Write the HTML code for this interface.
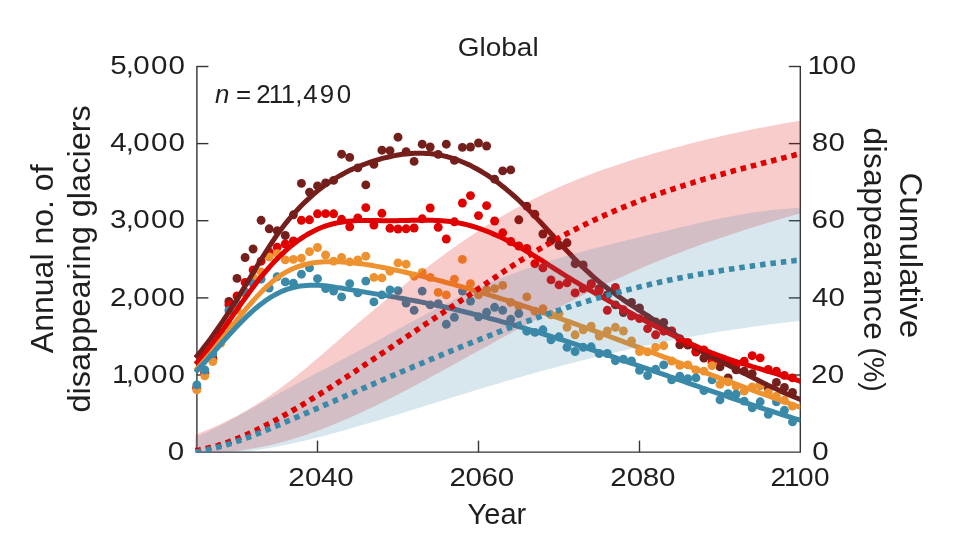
<!DOCTYPE html>
<html lang="en">
<head>
<meta charset="utf-8">
<title>Global – annual number of disappearing glaciers</title>
<style>
html,body{margin:0;padding:0;background:#fff;}
body{width:962px;height:546px;overflow:hidden;}
svg{display:block;}
</style>
</head>
<body>
<svg width="962" height="546" viewBox="0 0 962 546" font-family="'Liberation Sans', sans-serif" fill="#1f1f1f">
<rect width="962" height="546" fill="#ffffff"/>
<defs><clipPath id="plot"><rect x="190" y="60" width="610.3" height="392.70000000000005"/></clipPath></defs>
<g stroke="#353535" stroke-width="1.4" fill="none">
<path d="M196.9 65.9 V452.1 H800.3 V65.9"/>
<path d="M196.9 375.0 h11.5"/>
<path d="M800.3 375.0 h-11.5"/>
<path d="M196.9 297.9 h11.5"/>
<path d="M800.3 297.9 h-11.5"/>
<path d="M196.9 220.7 h11.5"/>
<path d="M800.3 220.7 h-11.5"/>
<path d="M196.9 143.6 h11.5"/>
<path d="M800.3 143.6 h-11.5"/>
<path d="M196.9 66.5 h11.5"/>
<path d="M800.3 66.5 h-11.5"/>
<path d="M317.5 452.1 v-11.5"/>
<path d="M478.5 452.1 v-11.5"/>
<path d="M639.5 452.1 v-11.5"/>
</g>
<g clip-path="url(#plot)">
<g fill="#741f1c" stroke="none">
<circle cx="196.8" cy="388.0" r="4.45"/>
<circle cx="204.8" cy="373.0" r="4.45"/>
<circle cx="212.8" cy="358.0" r="4.45"/>
<circle cx="220.9" cy="333.0" r="4.45"/>
<circle cx="228.9" cy="301.4" r="4.45"/>
<circle cx="237.0" cy="278.4" r="4.45"/>
<circle cx="245.1" cy="257.5" r="4.45"/>
<circle cx="253.1" cy="249.0" r="4.45"/>
<circle cx="261.1" cy="220.3" r="4.45"/>
<circle cx="269.2" cy="228.8" r="4.45"/>
<circle cx="277.2" cy="230.8" r="4.45"/>
<circle cx="285.3" cy="235.5" r="4.45"/>
<circle cx="293.4" cy="214.8" r="4.45"/>
<circle cx="301.4" cy="183.4" r="4.45"/>
<circle cx="309.5" cy="192.1" r="4.45"/>
<circle cx="317.5" cy="185.9" r="4.45"/>
<circle cx="325.6" cy="182.9" r="4.45"/>
<circle cx="333.6" cy="180.4" r="4.45"/>
<circle cx="341.6" cy="154.2" r="4.45"/>
<circle cx="349.7" cy="157.4" r="4.45"/>
<circle cx="357.8" cy="167.9" r="4.45"/>
<circle cx="365.8" cy="184.9" r="4.45"/>
<circle cx="373.9" cy="164.4" r="4.45"/>
<circle cx="381.9" cy="150.2" r="4.45"/>
<circle cx="390.0" cy="150.7" r="4.45"/>
<circle cx="398.0" cy="137.2" r="4.45"/>
<circle cx="406.1" cy="151.7" r="4.45"/>
<circle cx="414.1" cy="161.4" r="4.45"/>
<circle cx="422.2" cy="144.2" r="4.45"/>
<circle cx="430.2" cy="147.0" r="4.45"/>
<circle cx="438.2" cy="154.4" r="4.45"/>
<circle cx="446.3" cy="144.2" r="4.45"/>
<circle cx="454.4" cy="160.4" r="4.45"/>
<circle cx="462.4" cy="147.4" r="4.45"/>
<circle cx="470.5" cy="147.0" r="4.45"/>
<circle cx="478.5" cy="143.0" r="4.45"/>
<circle cx="486.6" cy="146.0" r="4.45"/>
<circle cx="494.6" cy="179.1" r="4.45"/>
<circle cx="502.7" cy="170.9" r="4.45"/>
<circle cx="510.7" cy="169.9" r="4.45"/>
<circle cx="518.8" cy="219.8" r="4.45"/>
<circle cx="526.8" cy="206.1" r="4.45"/>
<circle cx="534.9" cy="214.3" r="4.45"/>
<circle cx="542.9" cy="234.0" r="4.45"/>
<circle cx="551.0" cy="240.5" r="4.45"/>
<circle cx="559.0" cy="245.5" r="4.45"/>
<circle cx="567.0" cy="242.8" r="4.45"/>
<circle cx="575.1" cy="263.7" r="4.45"/>
<circle cx="583.2" cy="264.9" r="4.45"/>
<circle cx="591.2" cy="283.6" r="4.45"/>
<circle cx="599.2" cy="288.6" r="4.45"/>
<circle cx="607.3" cy="295.0" r="4.45"/>
<circle cx="615.4" cy="304.9" r="4.45"/>
<circle cx="623.4" cy="312.5" r="4.45"/>
<circle cx="631.5" cy="302.4" r="4.45"/>
<circle cx="639.5" cy="308.0" r="4.45"/>
<circle cx="647.6" cy="318.0" r="4.45"/>
<circle cx="655.6" cy="322.0" r="4.45"/>
<circle cx="663.7" cy="322.4" r="4.45"/>
<circle cx="671.7" cy="331.0" r="4.45"/>
<circle cx="679.8" cy="344.8" r="4.45"/>
<circle cx="687.8" cy="345.0" r="4.45"/>
<circle cx="695.9" cy="352.0" r="4.45"/>
<circle cx="703.9" cy="358.0" r="4.45"/>
<circle cx="712.0" cy="357.4" r="4.45"/>
<circle cx="720.0" cy="366.9" r="4.45"/>
<circle cx="728.1" cy="377.9" r="4.45"/>
<circle cx="736.1" cy="369.9" r="4.45"/>
<circle cx="744.2" cy="371.1" r="4.45"/>
<circle cx="752.2" cy="373.6" r="4.45"/>
<circle cx="760.2" cy="385.4" r="4.45"/>
<circle cx="768.3" cy="388.6" r="4.45"/>
<circle cx="776.4" cy="382.4" r="4.45"/>
<circle cx="784.4" cy="387.4" r="4.45"/>
<circle cx="792.5" cy="392.4" r="4.45"/>
</g>
<g fill="#e00000" stroke="none">
<circle cx="196.8" cy="388.0" r="4.45"/>
<circle cx="204.8" cy="372.0" r="4.45"/>
<circle cx="212.8" cy="359.3" r="4.45"/>
<circle cx="220.9" cy="335.0" r="4.45"/>
<circle cx="228.9" cy="304.8" r="4.45"/>
<circle cx="237.0" cy="296.0" r="4.45"/>
<circle cx="245.1" cy="282.4" r="4.45"/>
<circle cx="253.1" cy="270.0" r="4.45"/>
<circle cx="261.1" cy="261.2" r="4.45"/>
<circle cx="269.2" cy="252.0" r="4.45"/>
<circle cx="277.2" cy="247.2" r="4.45"/>
<circle cx="285.3" cy="244.0" r="4.45"/>
<circle cx="293.4" cy="241.0" r="4.45"/>
<circle cx="301.4" cy="220.3" r="4.45"/>
<circle cx="309.5" cy="219.8" r="4.45"/>
<circle cx="317.5" cy="213.8" r="4.45"/>
<circle cx="325.6" cy="213.6" r="4.45"/>
<circle cx="333.6" cy="213.8" r="4.45"/>
<circle cx="341.6" cy="219.3" r="4.45"/>
<circle cx="349.7" cy="226.8" r="4.45"/>
<circle cx="357.8" cy="218.0" r="4.45"/>
<circle cx="365.8" cy="207.6" r="4.45"/>
<circle cx="373.9" cy="225.0" r="4.45"/>
<circle cx="381.9" cy="213.3" r="4.45"/>
<circle cx="390.0" cy="228.3" r="4.45"/>
<circle cx="398.0" cy="229.0" r="4.45"/>
<circle cx="406.1" cy="228.8" r="4.45"/>
<circle cx="414.1" cy="228.0" r="4.45"/>
<circle cx="422.2" cy="218.8" r="4.45"/>
<circle cx="430.2" cy="208.0" r="4.45"/>
<circle cx="438.2" cy="227.3" r="4.45"/>
<circle cx="446.3" cy="239.0" r="4.45"/>
<circle cx="454.4" cy="221.8" r="4.45"/>
<circle cx="462.4" cy="203.0" r="4.45"/>
<circle cx="470.5" cy="195.6" r="4.45"/>
<circle cx="478.5" cy="215.6" r="4.45"/>
<circle cx="486.6" cy="205.6" r="4.45"/>
<circle cx="494.6" cy="221.0" r="4.45"/>
<circle cx="502.7" cy="232.8" r="4.45"/>
<circle cx="510.7" cy="241.5" r="4.45"/>
<circle cx="518.8" cy="246.0" r="4.45"/>
<circle cx="526.8" cy="248.5" r="4.45"/>
<circle cx="534.9" cy="263.7" r="4.45"/>
<circle cx="542.9" cy="267.9" r="4.45"/>
<circle cx="551.0" cy="279.9" r="4.45"/>
<circle cx="559.0" cy="284.9" r="4.45"/>
<circle cx="567.0" cy="282.9" r="4.45"/>
<circle cx="575.1" cy="292.9" r="4.45"/>
<circle cx="583.2" cy="288.6" r="4.45"/>
<circle cx="591.2" cy="284.4" r="4.45"/>
<circle cx="599.2" cy="290.6" r="4.45"/>
<circle cx="607.3" cy="310.3" r="4.45"/>
<circle cx="615.4" cy="287.4" r="4.45"/>
<circle cx="623.4" cy="309.8" r="4.45"/>
<circle cx="631.5" cy="316.1" r="4.45"/>
<circle cx="639.5" cy="318.6" r="4.45"/>
<circle cx="647.6" cy="328.6" r="4.45"/>
<circle cx="655.6" cy="334.8" r="4.45"/>
<circle cx="663.7" cy="331.2" r="4.45"/>
<circle cx="671.7" cy="331.2" r="4.45"/>
<circle cx="679.8" cy="338.7" r="4.45"/>
<circle cx="687.8" cy="342.5" r="4.45"/>
<circle cx="695.9" cy="351.5" r="4.45"/>
<circle cx="703.9" cy="350.0" r="4.45"/>
<circle cx="712.0" cy="362.4" r="4.45"/>
<circle cx="720.0" cy="360.0" r="4.45"/>
<circle cx="728.1" cy="362.5" r="4.45"/>
<circle cx="736.1" cy="365.0" r="4.45"/>
<circle cx="744.2" cy="361.2" r="4.45"/>
<circle cx="752.2" cy="355.7" r="4.45"/>
<circle cx="760.2" cy="357.9" r="4.45"/>
<circle cx="768.3" cy="369.4" r="4.45"/>
<circle cx="776.4" cy="371.1" r="4.45"/>
<circle cx="784.4" cy="375.4" r="4.45"/>
<circle cx="792.5" cy="377.9" r="4.45"/>
</g>
<g fill="#ee922f" stroke="none">
<circle cx="196.8" cy="389.9" r="4.45"/>
<circle cx="204.8" cy="375.8" r="4.45"/>
<circle cx="212.8" cy="361.5" r="4.45"/>
<circle cx="220.9" cy="343.0" r="4.45"/>
<circle cx="228.9" cy="325.0" r="4.45"/>
<circle cx="237.0" cy="310.0" r="4.45"/>
<circle cx="245.1" cy="293.6" r="4.45"/>
<circle cx="253.1" cy="277.4" r="4.45"/>
<circle cx="261.1" cy="271.9" r="4.45"/>
<circle cx="269.2" cy="256.9" r="4.45"/>
<circle cx="277.2" cy="253.7" r="4.45"/>
<circle cx="285.3" cy="259.9" r="4.45"/>
<circle cx="293.4" cy="259.4" r="4.45"/>
<circle cx="301.4" cy="258.2" r="4.45"/>
<circle cx="309.5" cy="251.7" r="4.45"/>
<circle cx="317.5" cy="247.5" r="4.45"/>
<circle cx="325.6" cy="255.0" r="4.45"/>
<circle cx="333.6" cy="261.2" r="4.45"/>
<circle cx="341.6" cy="257.4" r="4.45"/>
<circle cx="349.7" cy="261.9" r="4.45"/>
<circle cx="357.8" cy="259.9" r="4.45"/>
<circle cx="365.8" cy="256.2" r="4.45"/>
<circle cx="373.9" cy="277.4" r="4.45"/>
<circle cx="381.9" cy="277.9" r="4.45"/>
<circle cx="390.0" cy="271.2" r="4.45"/>
<circle cx="398.0" cy="262.9" r="4.45"/>
<circle cx="406.1" cy="264.2" r="4.45"/>
<circle cx="414.1" cy="276.2" r="4.45"/>
<circle cx="422.2" cy="272.4" r="4.45"/>
<circle cx="430.2" cy="277.4" r="4.45"/>
<circle cx="438.2" cy="292.4" r="4.45"/>
<circle cx="446.3" cy="294.9" r="4.45"/>
<circle cx="454.4" cy="279.2" r="4.45"/>
<circle cx="462.4" cy="259.4" r="4.45"/>
<circle cx="470.5" cy="283.6" r="4.45"/>
<circle cx="478.5" cy="294.9" r="4.45"/>
<circle cx="486.6" cy="289.9" r="4.45"/>
<circle cx="494.6" cy="288.6" r="4.45"/>
<circle cx="502.7" cy="285.4" r="4.45"/>
<circle cx="510.7" cy="302.4" r="4.45"/>
<circle cx="518.8" cy="306.1" r="4.45"/>
<circle cx="526.8" cy="296.9" r="4.45"/>
<circle cx="534.9" cy="311.1" r="4.45"/>
<circle cx="542.9" cy="308.6" r="4.45"/>
<circle cx="551.0" cy="314.8" r="4.45"/>
<circle cx="559.0" cy="313.6" r="4.45"/>
<circle cx="567.0" cy="327.3" r="4.45"/>
<circle cx="575.1" cy="334.8" r="4.45"/>
<circle cx="583.2" cy="329.8" r="4.45"/>
<circle cx="591.2" cy="326.1" r="4.45"/>
<circle cx="599.2" cy="336.0" r="4.45"/>
<circle cx="607.3" cy="331.0" r="4.45"/>
<circle cx="615.4" cy="327.3" r="4.45"/>
<circle cx="623.4" cy="331.0" r="4.45"/>
<circle cx="631.5" cy="341.0" r="4.45"/>
<circle cx="639.5" cy="351.5" r="4.45"/>
<circle cx="647.6" cy="351.9" r="4.45"/>
<circle cx="655.6" cy="347.4" r="4.45"/>
<circle cx="663.7" cy="345.7" r="4.45"/>
<circle cx="671.7" cy="361.0" r="4.45"/>
<circle cx="679.8" cy="365.4" r="4.45"/>
<circle cx="687.8" cy="364.9" r="4.45"/>
<circle cx="695.9" cy="369.9" r="4.45"/>
<circle cx="703.9" cy="371.1" r="4.45"/>
<circle cx="712.0" cy="365.7" r="4.45"/>
<circle cx="720.0" cy="384.4" r="4.45"/>
<circle cx="728.1" cy="381.9" r="4.45"/>
<circle cx="736.1" cy="386.1" r="4.45"/>
<circle cx="744.2" cy="391.1" r="4.45"/>
<circle cx="752.2" cy="386.9" r="4.45"/>
<circle cx="760.2" cy="385.4" r="4.45"/>
<circle cx="768.3" cy="392.4" r="4.45"/>
<circle cx="776.4" cy="396.1" r="4.45"/>
<circle cx="784.4" cy="400.3" r="4.45"/>
<circle cx="792.5" cy="406.1" r="4.45"/>
</g>
<g fill="#3a89a8" stroke="none">
<circle cx="196.8" cy="384.9" r="4.45"/>
<circle cx="204.8" cy="370.0" r="4.45"/>
<circle cx="212.8" cy="353.7" r="4.45"/>
<circle cx="220.9" cy="338.0" r="4.45"/>
<circle cx="228.9" cy="310.5" r="4.45"/>
<circle cx="237.0" cy="303.6" r="4.45"/>
<circle cx="245.1" cy="292.0" r="4.45"/>
<circle cx="253.1" cy="283.6" r="4.45"/>
<circle cx="261.1" cy="279.2" r="4.45"/>
<circle cx="269.2" cy="288.1" r="4.45"/>
<circle cx="277.2" cy="276.7" r="4.45"/>
<circle cx="285.3" cy="281.9" r="4.45"/>
<circle cx="293.4" cy="283.1" r="4.45"/>
<circle cx="301.4" cy="274.2" r="4.45"/>
<circle cx="309.5" cy="267.9" r="4.45"/>
<circle cx="317.5" cy="278.7" r="4.45"/>
<circle cx="325.6" cy="288.6" r="4.45"/>
<circle cx="333.6" cy="291.1" r="4.45"/>
<circle cx="341.6" cy="296.9" r="4.45"/>
<circle cx="349.7" cy="283.6" r="4.45"/>
<circle cx="357.8" cy="292.9" r="4.45"/>
<circle cx="365.8" cy="281.1" r="4.45"/>
<circle cx="373.9" cy="301.9" r="4.45"/>
<circle cx="381.9" cy="294.9" r="4.45"/>
<circle cx="390.0" cy="289.9" r="4.45"/>
<circle cx="398.0" cy="290.6" r="4.45"/>
<circle cx="406.1" cy="303.1" r="4.45"/>
<circle cx="414.1" cy="310.3" r="4.45"/>
<circle cx="422.2" cy="291.1" r="4.45"/>
<circle cx="430.2" cy="304.9" r="4.45"/>
<circle cx="438.2" cy="303.6" r="4.45"/>
<circle cx="446.3" cy="324.3" r="4.45"/>
<circle cx="454.4" cy="317.3" r="4.45"/>
<circle cx="462.4" cy="291.1" r="4.45"/>
<circle cx="470.5" cy="301.1" r="4.45"/>
<circle cx="478.5" cy="316.8" r="4.45"/>
<circle cx="486.6" cy="312.3" r="4.45"/>
<circle cx="494.6" cy="307.3" r="4.45"/>
<circle cx="502.7" cy="310.3" r="4.45"/>
<circle cx="510.7" cy="319.3" r="4.45"/>
<circle cx="518.8" cy="313.6" r="4.45"/>
<circle cx="526.8" cy="331.2" r="4.45"/>
<circle cx="534.9" cy="332.4" r="4.45"/>
<circle cx="542.9" cy="329.8" r="4.45"/>
<circle cx="551.0" cy="339.8" r="4.45"/>
<circle cx="559.0" cy="336.8" r="4.45"/>
<circle cx="567.0" cy="347.3" r="4.45"/>
<circle cx="575.1" cy="351.5" r="4.45"/>
<circle cx="583.2" cy="347.3" r="4.45"/>
<circle cx="591.2" cy="346.8" r="4.45"/>
<circle cx="599.2" cy="353.5" r="4.45"/>
<circle cx="607.3" cy="353.5" r="4.45"/>
<circle cx="615.4" cy="360.7" r="4.45"/>
<circle cx="623.4" cy="359.2" r="4.45"/>
<circle cx="631.5" cy="361.0" r="4.45"/>
<circle cx="639.5" cy="370.4" r="4.45"/>
<circle cx="647.6" cy="375.5" r="4.45"/>
<circle cx="655.6" cy="369.3" r="4.45"/>
<circle cx="663.7" cy="364.9" r="4.45"/>
<circle cx="671.7" cy="379.9" r="4.45"/>
<circle cx="679.8" cy="376.1" r="4.45"/>
<circle cx="687.8" cy="378.6" r="4.45"/>
<circle cx="695.9" cy="377.9" r="4.45"/>
<circle cx="703.9" cy="390.6" r="4.45"/>
<circle cx="712.0" cy="379.9" r="4.45"/>
<circle cx="720.0" cy="399.8" r="4.45"/>
<circle cx="728.1" cy="393.6" r="4.45"/>
<circle cx="736.1" cy="394.1" r="4.45"/>
<circle cx="744.2" cy="401.1" r="4.45"/>
<circle cx="752.2" cy="407.8" r="4.45"/>
<circle cx="760.2" cy="401.8" r="4.45"/>
<circle cx="768.3" cy="414.3" r="4.45"/>
<circle cx="776.4" cy="401.8" r="4.45"/>
<circle cx="784.4" cy="410.3" r="4.45"/>
<circle cx="792.5" cy="421.8" r="4.45"/>
</g>
<path d="M195.5 357.8 L198.5 354.2 L201.5 350.5 L204.5 346.6 L207.5 342.7 L210.5 338.7 L213.5 334.5 L216.5 330.3 L219.5 326.0 L222.5 321.6 L225.5 317.1 L228.5 312.5 L231.5 307.9 L234.5 303.1 L237.5 298.3 L240.5 293.5 L243.5 288.6 L246.5 283.6 L249.5 278.7 L252.5 273.7 L255.5 268.7 L258.5 263.7 L261.5 258.8 L264.5 254.0 L267.5 249.2 L270.5 244.6 L273.5 240.1 L276.5 235.7 L279.5 231.5 L282.5 227.5 L285.5 223.6 L288.5 219.9 L291.5 216.4 L294.5 212.9 L297.5 209.7 L300.5 206.5 L303.5 203.5 L306.5 200.6 L309.5 197.8 L312.5 195.1 L315.5 192.6 L318.5 190.1 L321.5 187.8 L324.5 185.6 L327.5 183.4 L330.5 181.4 L333.5 179.5 L336.5 177.6 L339.5 175.9 L342.5 174.2 L345.5 172.6 L348.5 171.1 L351.5 169.6 L354.5 168.3 L357.5 167.0 L360.5 165.8 L363.5 164.6 L366.5 163.5 L369.5 162.4 L372.5 161.4 L375.5 160.5 L378.5 159.6 L381.5 158.7 L384.5 157.9 L387.5 157.2 L390.5 156.5 L393.5 155.9 L396.5 155.3 L399.5 154.8 L402.5 154.3 L405.5 154.0 L408.5 153.7 L411.5 153.4 L414.5 153.3 L417.5 153.2 L420.5 153.2 L423.5 153.2 L426.5 153.4 L429.5 153.6 L432.5 153.9 L435.5 154.3 L438.5 154.8 L441.5 155.4 L444.5 156.1 L447.5 156.8 L450.5 157.7 L453.5 158.6 L456.5 159.6 L459.5 160.8 L462.5 162.0 L465.5 163.3 L468.5 164.6 L471.5 166.1 L474.5 167.7 L477.5 169.3 L480.5 171.0 L483.5 172.8 L486.5 174.7 L489.5 176.7 L492.5 178.8 L495.5 180.9 L498.5 183.1 L501.5 185.4 L504.5 187.8 L507.5 190.3 L510.5 192.9 L513.5 195.5 L516.5 198.2 L519.5 201.0 L522.5 203.8 L525.5 206.8 L528.5 209.8 L531.5 212.8 L534.5 215.9 L537.5 219.1 L540.5 222.3 L543.5 225.5 L546.5 228.7 L549.5 232.0 L552.5 235.2 L555.5 238.5 L558.5 241.7 L561.5 245.0 L564.5 248.2 L567.5 251.4 L570.5 254.5 L573.5 257.7 L576.5 260.7 L579.5 263.8 L582.5 266.7 L585.5 269.6 L588.5 272.4 L591.5 275.2 L594.5 277.8 L597.5 280.4 L600.5 282.9 L603.5 285.3 L606.5 287.6 L609.5 289.9 L612.5 292.1 L615.5 294.3 L618.5 296.4 L621.5 298.5 L624.5 300.6 L627.5 302.6 L630.5 304.6 L633.5 306.5 L636.5 308.5 L639.5 310.4 L642.5 312.4 L645.5 314.3 L648.5 316.3 L651.5 318.3 L654.5 320.3 L657.5 322.3 L660.5 324.4 L663.5 326.4 L666.5 328.5 L669.5 330.6 L672.5 332.7 L675.5 334.8 L678.5 336.9 L681.5 338.9 L684.5 340.9 L687.5 342.9 L690.5 344.8 L693.5 346.7 L696.5 348.4 L699.5 350.2 L702.5 351.8 L705.5 353.5 L708.5 355.0 L711.5 356.6 L714.5 358.1 L717.5 359.6 L720.5 361.2 L723.5 362.7 L726.5 364.2 L729.5 365.7 L732.5 367.3 L735.5 368.8 L738.5 370.4 L741.5 371.9 L744.5 373.4 L747.5 375.0 L750.5 376.5 L753.5 378.0 L756.5 379.5 L759.5 381.0 L762.5 382.5 L765.5 383.9 L768.5 385.4 L771.5 386.8 L774.5 388.2 L777.5 389.6 L780.5 391.0 L783.5 392.4 L786.5 393.7 L789.5 395.0 L792.5 396.3 L795.5 397.5 L798.5 398.7 L801.0 399.7" fill="none" stroke="#741f1c" stroke-width="5.0" stroke-linejoin="round"/>
<path d="M195.5 364.1 L198.5 360.9 L201.5 357.5 L204.5 353.9 L207.5 350.2 L210.5 346.4 L213.5 342.5 L216.5 338.4 L219.5 334.3 L222.5 330.2 L225.5 326.0 L228.5 321.7 L231.5 317.4 L234.5 313.1 L237.5 308.9 L240.5 304.6 L243.5 300.4 L246.5 296.2 L249.5 292.1 L252.5 288.0 L255.5 284.1 L258.5 280.2 L261.5 276.4 L264.5 272.8 L267.5 269.3 L270.5 265.9 L273.5 262.6 L276.5 259.5 L279.5 256.4 L282.5 253.6 L285.5 250.8 L288.5 248.2 L291.5 245.7 L294.5 243.3 L297.5 241.0 L300.5 238.9 L303.5 236.9 L306.5 235.0 L309.5 233.3 L312.5 231.7 L315.5 230.1 L318.5 228.8 L321.5 227.5 L324.5 226.4 L327.5 225.4 L330.5 224.5 L333.5 223.7 L336.5 223.0 L339.5 222.4 L342.5 222.0 L345.5 221.5 L348.5 221.2 L351.5 221.0 L354.5 220.8 L357.5 220.6 L360.5 220.5 L363.5 220.5 L366.5 220.5 L369.5 220.5 L372.5 220.5 L375.5 220.5 L378.5 220.6 L381.5 220.7 L384.5 220.7 L387.5 220.7 L390.5 220.7 L393.5 220.7 L396.5 220.7 L399.5 220.6 L402.5 220.6 L405.5 220.5 L408.5 220.4 L411.5 220.3 L414.5 220.3 L417.5 220.2 L420.5 220.2 L423.5 220.2 L426.5 220.2 L429.5 220.2 L432.5 220.3 L435.5 220.4 L438.5 220.5 L441.5 220.7 L444.5 220.9 L447.5 221.2 L450.5 221.6 L453.5 222.0 L456.5 222.5 L459.5 223.1 L462.5 223.7 L465.5 224.4 L468.5 225.2 L471.5 226.0 L474.5 226.9 L477.5 227.9 L480.5 228.9 L483.5 230.0 L486.5 231.1 L489.5 232.3 L492.5 233.6 L495.5 234.9 L498.5 236.2 L501.5 237.6 L504.5 239.1 L507.5 240.6 L510.5 242.1 L513.5 243.7 L516.5 245.4 L519.5 247.0 L522.5 248.8 L525.5 250.5 L528.5 252.3 L531.5 254.1 L534.5 256.0 L537.5 257.8 L540.5 259.7 L543.5 261.6 L546.5 263.5 L549.5 265.5 L552.5 267.4 L555.5 269.3 L558.5 271.2 L561.5 273.1 L564.5 275.0 L567.5 276.9 L570.5 278.7 L573.5 280.6 L576.5 282.4 L579.5 284.2 L582.5 285.9 L585.5 287.7 L588.5 289.4 L591.5 291.1 L594.5 292.8 L597.5 294.5 L600.5 296.2 L603.5 297.9 L606.5 299.6 L609.5 301.2 L612.5 302.9 L615.5 304.5 L618.5 306.2 L621.5 307.8 L624.5 309.5 L627.5 311.1 L630.5 312.8 L633.5 314.4 L636.5 316.1 L639.5 317.7 L642.5 319.3 L645.5 321.0 L648.5 322.6 L651.5 324.2 L654.5 325.8 L657.5 327.3 L660.5 328.9 L663.5 330.5 L666.5 332.0 L669.5 333.5 L672.5 335.0 L675.5 336.5 L678.5 338.0 L681.5 339.5 L684.5 340.9 L687.5 342.3 L690.5 343.7 L693.5 345.1 L696.5 346.4 L699.5 347.7 L702.5 349.0 L705.5 350.3 L708.5 351.5 L711.5 352.7 L714.5 353.9 L717.5 355.0 L720.5 356.1 L723.5 357.2 L726.5 358.3 L729.5 359.3 L732.5 360.3 L735.5 361.3 L738.5 362.3 L741.5 363.3 L744.5 364.2 L747.5 365.1 L750.5 366.0 L753.5 367.0 L756.5 367.9 L759.5 368.7 L762.5 369.6 L765.5 370.5 L768.5 371.4 L771.5 372.3 L774.5 373.2 L777.5 374.1 L780.5 375.0 L783.5 375.9 L786.5 376.8 L789.5 377.8 L792.5 378.7 L795.5 379.7 L798.5 380.7 L801.0 381.5" fill="none" stroke="#e00000" stroke-width="5.0" stroke-linejoin="round"/>
<path d="M195.5 370.5 L198.5 367.2 L201.5 363.9 L204.5 360.4 L207.5 356.9 L210.5 353.3 L213.5 349.6 L216.5 345.9 L219.5 342.1 L222.5 338.3 L225.5 334.5 L228.5 330.7 L231.5 326.9 L234.5 323.1 L237.5 319.4 L240.5 315.7 L243.5 312.0 L246.5 308.4 L249.5 304.9 L252.5 301.5 L255.5 298.1 L258.5 294.9 L261.5 291.8 L264.5 288.8 L267.5 285.9 L270.5 283.3 L273.5 280.7 L276.5 278.4 L279.5 276.2 L282.5 274.2 L285.5 272.4 L288.5 270.8 L291.5 269.3 L294.5 268.0 L297.5 266.9 L300.5 265.8 L303.5 265.0 L306.5 264.2 L309.5 263.5 L312.5 263.0 L315.5 262.6 L318.5 262.2 L321.5 262.0 L324.5 261.8 L327.5 261.7 L330.5 261.7 L333.5 261.7 L336.5 261.7 L339.5 261.8 L342.5 262.0 L345.5 262.2 L348.5 262.4 L351.5 262.7 L354.5 263.0 L357.5 263.4 L360.5 263.7 L363.5 264.1 L366.5 264.6 L369.5 265.0 L372.5 265.5 L375.5 266.1 L378.5 266.6 L381.5 267.2 L384.5 267.8 L387.5 268.4 L390.5 269.0 L393.5 269.6 L396.5 270.3 L399.5 270.9 L402.5 271.6 L405.5 272.3 L408.5 273.0 L411.5 273.7 L414.5 274.4 L417.5 275.1 L420.5 275.8 L423.5 276.5 L426.5 277.3 L429.5 278.1 L432.5 278.8 L435.5 279.6 L438.5 280.4 L441.5 281.2 L444.5 282.0 L447.5 282.8 L450.5 283.6 L453.5 284.4 L456.5 285.3 L459.5 286.1 L462.5 287.0 L465.5 287.8 L468.5 288.7 L471.5 289.6 L474.5 290.5 L477.5 291.4 L480.5 292.3 L483.5 293.2 L486.5 294.1 L489.5 295.0 L492.5 296.0 L495.5 296.9 L498.5 297.8 L501.5 298.8 L504.5 299.7 L507.5 300.7 L510.5 301.7 L513.5 302.6 L516.5 303.6 L519.5 304.6 L522.5 305.6 L525.5 306.6 L528.5 307.6 L531.5 308.6 L534.5 309.6 L537.5 310.7 L540.5 311.7 L543.5 312.7 L546.5 313.8 L549.5 314.8 L552.5 315.8 L555.5 316.9 L558.5 318.0 L561.5 319.0 L564.5 320.1 L567.5 321.1 L570.5 322.2 L573.5 323.3 L576.5 324.4 L579.5 325.5 L582.5 326.5 L585.5 327.6 L588.5 328.7 L591.5 329.8 L594.5 330.9 L597.5 332.0 L600.5 333.1 L603.5 334.2 L606.5 335.3 L609.5 336.5 L612.5 337.6 L615.5 338.7 L618.5 339.8 L621.5 340.9 L624.5 342.1 L627.5 343.2 L630.5 344.3 L633.5 345.4 L636.5 346.6 L639.5 347.7 L642.5 348.8 L645.5 350.0 L648.5 351.1 L651.5 352.2 L654.5 353.4 L657.5 354.5 L660.5 355.7 L663.5 356.8 L666.5 357.9 L669.5 359.1 L672.5 360.2 L675.5 361.4 L678.5 362.5 L681.5 363.6 L684.5 364.8 L687.5 365.9 L690.5 367.0 L693.5 368.2 L696.5 369.3 L699.5 370.5 L702.5 371.6 L705.5 372.7 L708.5 373.9 L711.5 375.0 L714.5 376.1 L717.5 377.2 L720.5 378.4 L723.5 379.5 L726.5 380.6 L729.5 381.7 L732.5 382.8 L735.5 384.0 L738.5 385.1 L741.5 386.2 L744.5 387.3 L747.5 388.4 L750.5 389.5 L753.5 390.6 L756.5 391.7 L759.5 392.8 L762.5 393.9 L765.5 394.9 L768.5 396.0 L771.5 397.1 L774.5 398.2 L777.5 399.2 L780.5 400.3 L783.5 401.4 L786.5 402.4 L789.5 403.5 L792.5 404.5 L795.5 405.6 L798.5 406.6 L801.0 407.5" fill="none" stroke="#ee922f" stroke-width="5.0" stroke-linejoin="round"/>
<path d="M195.5 372.3 L198.5 369.0 L201.5 365.8 L204.5 362.5 L207.5 359.1 L210.5 355.8 L213.5 352.4 L216.5 349.0 L219.5 345.6 L222.5 342.2 L225.5 338.9 L228.5 335.5 L231.5 332.2 L234.5 329.0 L237.5 325.8 L240.5 322.7 L243.5 319.7 L246.5 316.7 L249.5 313.9 L252.5 311.2 L255.5 308.5 L258.5 306.0 L261.5 303.7 L264.5 301.4 L267.5 299.3 L270.5 297.4 L273.5 295.6 L276.5 294.0 L279.5 292.5 L282.5 291.1 L285.5 289.9 L288.5 288.9 L291.5 288.0 L294.5 287.2 L297.5 286.5 L300.5 286.0 L303.5 285.7 L306.5 285.4 L309.5 285.2 L312.5 285.2 L315.5 285.2 L318.5 285.3 L321.5 285.5 L324.5 285.8 L327.5 286.1 L330.5 286.5 L333.5 286.9 L336.5 287.4 L339.5 287.8 L342.5 288.3 L345.5 288.9 L348.5 289.4 L351.5 289.9 L354.5 290.4 L357.5 290.9 L360.5 291.4 L363.5 291.9 L366.5 292.4 L369.5 292.9 L372.5 293.4 L375.5 293.9 L378.5 294.4 L381.5 294.9 L384.5 295.4 L387.5 295.9 L390.5 296.4 L393.5 296.9 L396.5 297.4 L399.5 298.0 L402.5 298.5 L405.5 299.0 L408.5 299.6 L411.5 300.1 L414.5 300.7 L417.5 301.3 L420.5 301.9 L423.5 302.5 L426.5 303.1 L429.5 303.7 L432.5 304.4 L435.5 305.0 L438.5 305.7 L441.5 306.3 L444.5 307.0 L447.5 307.7 L450.5 308.4 L453.5 309.1 L456.5 309.8 L459.5 310.5 L462.5 311.3 L465.5 312.0 L468.5 312.8 L471.5 313.5 L474.5 314.3 L477.5 315.1 L480.5 315.8 L483.5 316.6 L486.5 317.4 L489.5 318.3 L492.5 319.1 L495.5 319.9 L498.5 320.7 L501.5 321.6 L504.5 322.4 L507.5 323.3 L510.5 324.1 L513.5 325.0 L516.5 325.9 L519.5 326.8 L522.5 327.7 L525.5 328.5 L528.5 329.5 L531.5 330.4 L534.5 331.3 L537.5 332.2 L540.5 333.1 L543.5 334.1 L546.5 335.0 L549.5 335.9 L552.5 336.9 L555.5 337.8 L558.5 338.8 L561.5 339.7 L564.5 340.7 L567.5 341.7 L570.5 342.7 L573.5 343.6 L576.5 344.6 L579.5 345.6 L582.5 346.6 L585.5 347.6 L588.5 348.6 L591.5 349.6 L594.5 350.6 L597.5 351.6 L600.5 352.6 L603.5 353.7 L606.5 354.7 L609.5 355.7 L612.5 356.7 L615.5 357.7 L618.5 358.8 L621.5 359.8 L624.5 360.8 L627.5 361.9 L630.5 362.9 L633.5 364.0 L636.5 365.0 L639.5 366.0 L642.5 367.1 L645.5 368.1 L648.5 369.2 L651.5 370.2 L654.5 371.3 L657.5 372.3 L660.5 373.4 L663.5 374.4 L666.5 375.4 L669.5 376.5 L672.5 377.5 L675.5 378.6 L678.5 379.6 L681.5 380.7 L684.5 381.7 L687.5 382.8 L690.5 383.8 L693.5 384.9 L696.5 385.9 L699.5 386.9 L702.5 388.0 L705.5 389.0 L708.5 390.1 L711.5 391.1 L714.5 392.1 L717.5 393.2 L720.5 394.2 L723.5 395.2 L726.5 396.2 L729.5 397.3 L732.5 398.3 L735.5 399.3 L738.5 400.3 L741.5 401.3 L744.5 402.3 L747.5 403.3 L750.5 404.3 L753.5 405.3 L756.5 406.3 L759.5 407.3 L762.5 408.3 L765.5 409.3 L768.5 410.2 L771.5 411.2 L774.5 412.2 L777.5 413.1 L780.5 414.1 L783.5 415.1 L786.5 416.0 L789.5 416.9 L792.5 417.9 L795.5 418.8 L798.5 419.7 L801.0 420.5" fill="none" stroke="#3a89a8" stroke-width="5.0" stroke-linejoin="round"/>
<path d="M195.5 434.5 L198.5 433.4 L201.5 432.2 L204.5 431.0 L207.5 429.7 L210.5 428.5 L213.5 427.2 L216.5 425.8 L219.5 424.5 L222.5 423.0 L225.5 421.6 L228.5 420.1 L231.5 418.6 L234.5 417.0 L237.5 415.4 L240.5 413.8 L243.5 412.1 L246.5 410.4 L249.5 408.6 L252.5 406.8 L255.5 405.0 L258.5 403.1 L261.5 401.2 L264.5 399.2 L267.5 397.2 L270.5 395.2 L273.5 393.1 L276.5 390.9 L279.5 388.8 L282.5 386.6 L285.5 384.3 L288.5 382.1 L291.5 379.8 L294.5 377.4 L297.5 375.0 L300.5 372.6 L303.5 370.2 L306.5 367.7 L309.5 365.2 L312.5 362.6 L315.5 360.1 L318.5 357.5 L321.5 354.9 L324.5 352.3 L327.5 349.7 L330.5 347.1 L333.5 344.5 L336.5 341.9 L339.5 339.2 L342.5 336.6 L345.5 334.0 L348.5 331.4 L351.5 328.8 L354.5 326.2 L357.5 323.6 L360.5 321.0 L363.5 318.5 L366.5 315.9 L369.5 313.4 L372.5 310.9 L375.5 308.4 L378.5 305.9 L381.5 303.4 L384.5 300.9 L387.5 298.5 L390.5 296.0 L393.5 293.6 L396.5 291.2 L399.5 288.8 L402.5 286.4 L405.5 284.0 L408.5 281.6 L411.5 279.3 L414.5 277.0 L417.5 274.6 L420.5 272.3 L423.5 270.0 L426.5 267.7 L429.5 265.5 L432.5 263.2 L435.5 261.0 L438.5 258.7 L441.5 256.5 L444.5 254.3 L447.5 252.1 L450.5 250.0 L453.5 247.8 L456.5 245.7 L459.5 243.6 L462.5 241.5 L465.5 239.4 L468.5 237.4 L471.5 235.4 L474.5 233.4 L477.5 231.4 L480.5 229.4 L483.5 227.5 L486.5 225.6 L489.5 223.7 L492.5 221.9 L495.5 220.1 L498.5 218.3 L501.5 216.5 L504.5 214.7 L507.5 213.0 L510.5 211.3 L513.5 209.6 L516.5 208.0 L519.5 206.4 L522.5 204.8 L525.5 203.2 L528.5 201.6 L531.5 200.1 L534.5 198.6 L537.5 197.1 L540.5 195.7 L543.5 194.2 L546.5 192.8 L549.5 191.4 L552.5 190.0 L555.5 188.7 L558.5 187.3 L561.5 186.0 L564.5 184.7 L567.5 183.5 L570.5 182.2 L573.5 181.0 L576.5 179.7 L579.5 178.5 L582.5 177.4 L585.5 176.2 L588.5 175.0 L591.5 173.9 L594.5 172.8 L597.5 171.7 L600.5 170.6 L603.5 169.5 L606.5 168.5 L609.5 167.4 L612.5 166.4 L615.5 165.4 L618.5 164.4 L621.5 163.4 L624.5 162.4 L627.5 161.4 L630.5 160.5 L633.5 159.5 L636.5 158.6 L639.5 157.7 L642.5 156.8 L645.5 155.9 L648.5 155.0 L651.5 154.1 L654.5 153.3 L657.5 152.4 L660.5 151.6 L663.5 150.7 L666.5 149.9 L669.5 149.1 L672.5 148.3 L675.5 147.5 L678.5 146.7 L681.5 145.9 L684.5 145.1 L687.5 144.3 L690.5 143.5 L693.5 142.8 L696.5 142.0 L699.5 141.3 L702.5 140.5 L705.5 139.8 L708.5 139.1 L711.5 138.4 L714.5 137.7 L717.5 137.0 L720.5 136.3 L723.5 135.6 L726.5 134.9 L729.5 134.3 L732.5 133.6 L735.5 133.0 L738.5 132.3 L741.5 131.7 L744.5 131.1 L747.5 130.4 L750.5 129.8 L753.5 129.2 L756.5 128.6 L759.5 128.0 L762.5 127.5 L765.5 126.9 L768.5 126.3 L771.5 125.8 L774.5 125.2 L777.5 124.7 L780.5 124.1 L783.5 123.6 L786.5 123.1 L789.5 122.6 L792.5 122.1 L795.5 121.6 L798.5 121.1 L800.3 120.8 L800.3 213.4 L798.5 213.9 L795.5 214.7 L792.5 215.6 L789.5 216.4 L786.5 217.3 L783.5 218.2 L780.5 219.0 L777.5 219.9 L774.5 220.8 L771.5 221.7 L768.5 222.6 L765.5 223.5 L762.5 224.4 L759.5 225.3 L756.5 226.3 L753.5 227.2 L750.5 228.1 L747.5 229.1 L744.5 230.0 L741.5 231.0 L738.5 231.9 L735.5 232.9 L732.5 233.9 L729.5 234.9 L726.5 235.9 L723.5 236.9 L720.5 237.9 L717.5 238.9 L714.5 239.9 L711.5 241.0 L708.5 242.0 L705.5 243.1 L702.5 244.1 L699.5 245.2 L696.5 246.3 L693.5 247.4 L690.5 248.5 L687.5 249.6 L684.5 250.7 L681.5 251.9 L678.5 253.0 L675.5 254.2 L672.5 255.3 L669.5 256.5 L666.5 257.7 L663.5 258.9 L660.5 260.1 L657.5 261.3 L654.5 262.5 L651.5 263.8 L648.5 265.0 L645.5 266.3 L642.5 267.6 L639.5 268.9 L636.5 270.2 L633.5 271.5 L630.5 272.8 L627.5 274.2 L624.5 275.5 L621.5 276.9 L618.5 278.3 L615.5 279.6 L612.5 281.0 L609.5 282.4 L606.5 283.8 L603.5 285.3 L600.5 286.7 L597.5 288.1 L594.5 289.6 L591.5 291.1 L588.5 292.5 L585.5 294.0 L582.5 295.5 L579.5 297.0 L576.5 298.5 L573.5 300.0 L570.5 301.5 L567.5 303.1 L564.5 304.6 L561.5 306.1 L558.5 307.7 L555.5 309.2 L552.5 310.8 L549.5 312.4 L546.5 313.9 L543.5 315.5 L540.5 317.1 L537.5 318.7 L534.5 320.3 L531.5 321.9 L528.5 323.5 L525.5 325.1 L522.5 326.7 L519.5 328.3 L516.5 330.0 L513.5 331.6 L510.5 333.2 L507.5 334.8 L504.5 336.5 L501.5 338.1 L498.5 339.8 L495.5 341.4 L492.5 343.1 L489.5 344.7 L486.5 346.4 L483.5 348.0 L480.5 349.7 L477.5 351.3 L474.5 353.0 L471.5 354.6 L468.5 356.3 L465.5 358.0 L462.5 359.6 L459.5 361.3 L456.5 362.9 L453.5 364.6 L450.5 366.3 L447.5 367.9 L444.5 369.6 L441.5 371.2 L438.5 372.9 L435.5 374.5 L432.5 376.1 L429.5 377.8 L426.5 379.4 L423.5 381.0 L420.5 382.6 L417.5 384.2 L414.5 385.8 L411.5 387.4 L408.5 389.0 L405.5 390.6 L402.5 392.1 L399.5 393.7 L396.5 395.2 L393.5 396.8 L390.5 398.3 L387.5 399.8 L384.5 401.3 L381.5 402.8 L378.5 404.3 L375.5 405.7 L372.5 407.2 L369.5 408.6 L366.5 410.0 L363.5 411.5 L360.5 412.8 L357.5 414.2 L354.5 415.6 L351.5 416.9 L348.5 418.2 L345.5 419.5 L342.5 420.8 L339.5 422.1 L336.5 423.3 L333.5 424.6 L330.5 425.8 L327.5 427.0 L324.5 428.1 L321.5 429.3 L318.5 430.4 L315.5 431.5 L312.5 432.6 L309.5 433.6 L306.5 434.7 L303.5 435.7 L300.5 436.6 L297.5 437.6 L294.5 438.5 L291.5 439.4 L288.5 440.3 L285.5 441.2 L282.5 442.0 L279.5 442.8 L276.5 443.5 L273.5 444.3 L270.5 445.0 L267.5 445.7 L264.5 446.3 L261.5 446.9 L258.5 447.5 L255.5 448.1 L252.5 448.6 L249.5 449.1 L246.5 449.5 L243.5 450.0 L240.5 450.4 L237.5 450.7 L234.5 451.0 L231.5 451.3 L228.5 451.6 L225.5 451.8 L222.5 452.0 L219.5 452.1 L216.5 452.2 L213.5 452.3 L210.5 452.3 L207.5 452.3 L204.5 452.2 L201.5 452.1 L198.5 452.0 L195.5 451.8 Z" fill="#e00000" fill-opacity="0.2"/>
<path d="M195.5 437.1 L198.5 435.9 L201.5 434.6 L204.5 433.2 L207.5 431.9 L210.5 430.5 L213.5 429.0 L216.5 427.5 L219.5 426.0 L222.5 424.5 L225.5 422.9 L228.5 421.3 L231.5 419.7 L234.5 418.1 L237.5 416.4 L240.5 414.8 L243.5 413.1 L246.5 411.4 L249.5 409.7 L252.5 408.0 L255.5 406.4 L258.5 404.7 L261.5 403.0 L264.5 401.3 L267.5 399.6 L270.5 398.0 L273.5 396.3 L276.5 394.7 L279.5 393.0 L282.5 391.4 L285.5 389.8 L288.5 388.2 L291.5 386.5 L294.5 384.9 L297.5 383.3 L300.5 381.7 L303.5 380.1 L306.5 378.5 L309.5 376.9 L312.5 375.3 L315.5 373.7 L318.5 372.1 L321.5 370.5 L324.5 369.0 L327.5 367.4 L330.5 365.8 L333.5 364.2 L336.5 362.6 L339.5 361.0 L342.5 359.4 L345.5 357.8 L348.5 356.2 L351.5 354.6 L354.5 353.0 L357.5 351.4 L360.5 349.8 L363.5 348.2 L366.5 346.5 L369.5 344.9 L372.5 343.3 L375.5 341.6 L378.5 340.0 L381.5 338.4 L384.5 336.7 L387.5 335.1 L390.5 333.4 L393.5 331.8 L396.5 330.2 L399.5 328.5 L402.5 326.9 L405.5 325.2 L408.5 323.6 L411.5 322.0 L414.5 320.4 L417.5 318.8 L420.5 317.1 L423.5 315.5 L426.5 313.9 L429.5 312.3 L432.5 310.8 L435.5 309.2 L438.5 307.6 L441.5 306.1 L444.5 304.5 L447.5 303.0 L450.5 301.5 L453.5 300.0 L456.5 298.5 L459.5 297.0 L462.5 295.5 L465.5 294.1 L468.5 292.7 L471.5 291.2 L474.5 289.8 L477.5 288.5 L480.5 287.1 L483.5 285.8 L486.5 284.4 L489.5 283.1 L492.5 281.8 L495.5 280.6 L498.5 279.3 L501.5 278.1 L504.5 276.9 L507.5 275.7 L510.5 274.6 L513.5 273.4 L516.5 272.3 L519.5 271.2 L522.5 270.1 L525.5 269.0 L528.5 268.0 L531.5 267.0 L534.5 265.9 L537.5 264.9 L540.5 264.0 L543.5 263.0 L546.5 262.0 L549.5 261.1 L552.5 260.2 L555.5 259.3 L558.5 258.4 L561.5 257.5 L564.5 256.6 L567.5 255.7 L570.5 254.9 L573.5 254.0 L576.5 253.2 L579.5 252.4 L582.5 251.5 L585.5 250.7 L588.5 249.9 L591.5 249.1 L594.5 248.4 L597.5 247.6 L600.5 246.8 L603.5 246.1 L606.5 245.3 L609.5 244.5 L612.5 243.8 L615.5 243.1 L618.5 242.3 L621.5 241.6 L624.5 240.9 L627.5 240.1 L630.5 239.4 L633.5 238.7 L636.5 237.9 L639.5 237.2 L642.5 236.5 L645.5 235.8 L648.5 235.0 L651.5 234.3 L654.5 233.6 L657.5 232.9 L660.5 232.1 L663.5 231.4 L666.5 230.7 L669.5 230.0 L672.5 229.2 L675.5 228.5 L678.5 227.8 L681.5 227.1 L684.5 226.4 L687.5 225.7 L690.5 225.0 L693.5 224.3 L696.5 223.6 L699.5 222.9 L702.5 222.3 L705.5 221.6 L708.5 221.0 L711.5 220.3 L714.5 219.7 L717.5 219.1 L720.5 218.4 L723.5 217.8 L726.5 217.3 L729.5 216.7 L732.5 216.1 L735.5 215.6 L738.5 215.0 L741.5 214.5 L744.5 214.0 L747.5 213.5 L750.5 213.0 L753.5 212.5 L756.5 212.1 L759.5 211.7 L762.5 211.3 L765.5 210.9 L768.5 210.5 L771.5 210.1 L774.5 209.8 L777.5 209.5 L780.5 209.2 L783.5 208.9 L786.5 208.7 L789.5 208.5 L792.5 208.3 L795.5 208.1 L798.5 207.9 L800.3 207.8 L800.3 320.9 L798.5 321.1 L795.5 321.4 L792.5 321.8 L789.5 322.1 L786.5 322.4 L783.5 322.8 L780.5 323.1 L777.5 323.5 L774.5 323.9 L771.5 324.2 L768.5 324.6 L765.5 325.0 L762.5 325.4 L759.5 325.8 L756.5 326.2 L753.5 326.6 L750.5 327.0 L747.5 327.5 L744.5 327.9 L741.5 328.4 L738.5 328.8 L735.5 329.3 L732.5 329.7 L729.5 330.2 L726.5 330.7 L723.5 331.1 L720.5 331.6 L717.5 332.1 L714.5 332.6 L711.5 333.1 L708.5 333.6 L705.5 334.1 L702.5 334.7 L699.5 335.2 L696.5 335.7 L693.5 336.3 L690.5 336.8 L687.5 337.4 L684.5 337.9 L681.5 338.5 L678.5 339.1 L675.5 339.6 L672.5 340.2 L669.5 340.8 L666.5 341.4 L663.5 342.0 L660.5 342.6 L657.5 343.2 L654.5 343.9 L651.5 344.5 L648.5 345.1 L645.5 345.7 L642.5 346.4 L639.5 347.0 L636.5 347.7 L633.5 348.3 L630.5 349.0 L627.5 349.7 L624.5 350.4 L621.5 351.0 L618.5 351.7 L615.5 352.4 L612.5 353.1 L609.5 353.8 L606.5 354.5 L603.5 355.2 L600.5 356.0 L597.5 356.7 L594.5 357.4 L591.5 358.1 L588.5 358.9 L585.5 359.6 L582.5 360.4 L579.5 361.1 L576.5 361.9 L573.5 362.7 L570.5 363.4 L567.5 364.2 L564.5 365.0 L561.5 365.8 L558.5 366.6 L555.5 367.4 L552.5 368.2 L549.5 369.0 L546.5 369.8 L543.5 370.6 L540.5 371.4 L537.5 372.2 L534.5 373.1 L531.5 373.9 L528.5 374.7 L525.5 375.6 L522.5 376.4 L519.5 377.3 L516.5 378.1 L513.5 379.0 L510.5 379.9 L507.5 380.7 L504.5 381.6 L501.5 382.5 L498.5 383.4 L495.5 384.3 L492.5 385.2 L489.5 386.0 L486.5 386.9 L483.5 387.9 L480.5 388.8 L477.5 389.7 L474.5 390.6 L471.5 391.5 L468.5 392.4 L465.5 393.4 L462.5 394.3 L459.5 395.2 L456.5 396.1 L453.5 397.1 L450.5 398.0 L447.5 398.9 L444.5 399.9 L441.5 400.8 L438.5 401.7 L435.5 402.7 L432.5 403.6 L429.5 404.5 L426.5 405.5 L423.5 406.4 L420.5 407.4 L417.5 408.3 L414.5 409.2 L411.5 410.2 L408.5 411.1 L405.5 412.0 L402.5 412.9 L399.5 413.9 L396.5 414.8 L393.5 415.7 L390.5 416.6 L387.5 417.5 L384.5 418.5 L381.5 419.4 L378.5 420.3 L375.5 421.2 L372.5 422.1 L369.5 423.0 L366.5 423.8 L363.5 424.7 L360.5 425.6 L357.5 426.5 L354.5 427.3 L351.5 428.2 L348.5 429.1 L345.5 429.9 L342.5 430.8 L339.5 431.6 L336.5 432.4 L333.5 433.3 L330.5 434.1 L327.5 434.9 L324.5 435.7 L321.5 436.5 L318.5 437.2 L315.5 438.0 L312.5 438.8 L309.5 439.5 L306.5 440.2 L303.5 441.0 L300.5 441.7 L297.5 442.3 L294.5 443.0 L291.5 443.7 L288.5 444.3 L285.5 444.9 L282.5 445.5 L279.5 446.1 L276.5 446.7 L273.5 447.2 L270.5 447.8 L267.5 448.3 L264.5 448.8 L261.5 449.2 L258.5 449.7 L255.5 450.1 L252.5 450.5 L249.5 450.8 L246.5 451.2 L243.5 451.5 L240.5 451.8 L237.5 452.1 L234.5 452.3 L231.5 452.5 L228.5 452.7 L225.5 452.8 L222.5 452.9 L219.5 453.0 L216.5 453.1 L213.5 453.1 L210.5 453.1 L207.5 453.1 L204.5 453.0 L201.5 452.9 L198.5 452.7 L195.5 452.5 Z" fill="#3a89a8" fill-opacity="0.2"/>
<path d="M195.5 450.6 L197.5 450.2 L199.5 449.9 L201.5 449.5 L203.5 449.1 L205.5 448.7 L207.5 448.2 L209.5 447.7 L211.5 447.2 L213.5 446.7 L215.5 446.1 L217.5 445.6 L219.5 444.9 L221.5 444.3 L223.5 443.7 L225.5 443.0 L227.5 442.3 L229.5 441.6 L231.5 440.8 L233.5 440.1 L235.5 439.3 L237.5 438.5 L239.5 437.7 L241.5 436.8 L243.5 436.0 L245.5 435.1 L247.5 434.2 L249.5 433.3 L251.5 432.4 L253.5 431.4 L255.5 430.5 L257.5 429.5 L259.5 428.5 L261.5 427.5 L263.5 426.5 L265.5 425.5 L267.5 424.4 L269.5 423.4 L271.5 422.3 L273.5 421.2 L275.5 420.2 L277.5 419.1 L279.5 418.0 L281.5 416.9 L283.5 415.7 L285.5 414.6 L287.5 413.5 L289.5 412.3 L291.5 411.2 L293.5 410.0 L295.5 408.8 L297.5 407.6 L299.5 406.5 L301.5 405.3 L303.5 404.1 L305.5 402.9 L307.5 401.7 L309.5 400.4 L311.5 399.2 L313.5 398.0 L315.5 396.8 L317.5 395.5 L319.5 394.3 L321.5 393.0 L323.5 391.8 L325.5 390.5 L327.5 389.2 L329.5 388.0 L331.5 386.7 L333.5 385.4 L335.5 384.1 L337.5 382.8 L339.5 381.5 L341.5 380.2 L343.5 378.9 L345.5 377.6 L347.5 376.3 L349.5 375.0 L351.5 373.7 L353.5 372.4 L355.5 371.1 L357.5 369.7 L359.5 368.4 L361.5 367.1 L363.5 365.7 L365.5 364.4 L367.5 363.1 L369.5 361.7 L371.5 360.4 L373.5 359.1 L375.5 357.7 L377.5 356.4 L379.5 355.0 L381.5 353.7 L383.5 352.4 L385.5 351.0 L387.5 349.7 L389.5 348.3 L391.5 347.0 L393.5 345.6 L395.5 344.3 L397.5 342.9 L399.5 341.6 L401.5 340.2 L403.5 338.9 L405.5 337.6 L407.5 336.2 L409.5 334.9 L411.5 333.5 L413.5 332.2 L415.5 330.9 L417.5 329.5 L419.5 328.2 L421.5 326.9 L423.5 325.5 L425.5 324.2 L427.5 322.9 L429.5 321.6 L431.5 320.2 L433.5 318.9 L435.5 317.6 L437.5 316.2 L439.5 314.9 L441.5 313.6 L443.5 312.3 L445.5 310.9 L447.5 309.6 L449.5 308.3 L451.5 306.9 L453.5 305.6 L455.5 304.3 L457.5 302.9 L459.5 301.6 L461.5 300.2 L463.5 298.9 L465.5 297.6 L467.5 296.2 L469.5 294.8 L471.5 293.5 L473.5 292.1 L475.5 290.8 L477.5 289.4 L479.5 288.0 L481.5 286.7 L483.5 285.3 L485.5 283.9 L487.5 282.6 L489.5 281.2 L491.5 279.8 L493.5 278.5 L495.5 277.1 L497.5 275.8 L499.5 274.4 L501.5 273.1 L503.5 271.7 L505.5 270.4 L507.5 269.1 L509.5 267.7 L511.5 266.4 L513.5 265.1 L515.5 263.8 L517.5 262.5 L519.5 261.2 L521.5 260.0 L523.5 258.7 L525.5 257.5 L527.5 256.2 L529.5 255.0 L531.5 253.8 L533.5 252.5 L535.5 251.3 L537.5 250.1 L539.5 249.0 L541.5 247.8 L543.5 246.6 L545.5 245.5 L547.5 244.3 L549.5 243.2 L551.5 242.0 L553.5 240.9 L555.5 239.8 L557.5 238.7 L559.5 237.6 L561.5 236.5 L563.5 235.5 L565.5 234.4 L567.5 233.3 L569.5 232.3 L571.5 231.3 L573.5 230.2 L575.5 229.2 L577.5 228.2 L579.5 227.2 L581.5 226.2 L583.5 225.2 L585.5 224.2 L587.5 223.3 L589.5 222.3 L591.5 221.3 L593.5 220.4 L595.5 219.5 L597.5 218.5 L599.5 217.6 L601.5 216.7 L603.5 215.8 L605.5 214.9 L607.5 214.0 L609.5 213.1 L611.5 212.3 L613.5 211.4 L615.5 210.5 L617.5 209.7 L619.5 208.8 L621.5 208.0 L623.5 207.2 L625.5 206.4 L627.5 205.6 L629.5 204.8 L631.5 204.0 L633.5 203.2 L635.5 202.4 L637.5 201.6 L639.5 200.9 L641.5 200.1 L643.5 199.3 L645.5 198.6 L647.5 197.9 L649.5 197.1 L651.5 196.4 L653.5 195.7 L655.5 195.0 L657.5 194.3 L659.5 193.6 L661.5 192.9 L663.5 192.2 L665.5 191.5 L667.5 190.8 L669.5 190.1 L671.5 189.5 L673.5 188.8 L675.5 188.1 L677.5 187.5 L679.5 186.8 L681.5 186.2 L683.5 185.6 L685.5 184.9 L687.5 184.3 L689.5 183.7 L691.5 183.1 L693.5 182.4 L695.5 181.8 L697.5 181.2 L699.5 180.6 L701.5 180.0 L703.5 179.4 L705.5 178.8 L707.5 178.3 L709.5 177.7 L711.5 177.1 L713.5 176.5 L715.5 176.0 L717.5 175.4 L719.5 174.8 L721.5 174.3 L723.5 173.7 L725.5 173.1 L727.5 172.6 L729.5 172.0 L731.5 171.5 L733.5 170.9 L735.5 170.4 L737.5 169.9 L739.5 169.3 L741.5 168.8 L743.5 168.3 L745.5 167.7 L747.5 167.2 L749.5 166.7 L751.5 166.1 L753.5 165.6 L755.5 165.1 L757.5 164.6 L759.5 164.1 L761.5 163.5 L763.5 163.0 L765.5 162.5 L767.5 162.0 L769.5 161.5 L771.5 161.0 L773.5 160.5 L775.5 159.9 L777.5 159.4 L779.5 158.9 L781.5 158.4 L783.5 157.9 L785.5 157.4 L787.5 156.9 L789.5 156.4 L791.5 155.9 L793.5 155.4 L795.5 154.8 L796.8 154.5" fill="none" stroke="#e00000" stroke-width="5.6" stroke-dasharray="5.5 4.976"/>
<path d="M195.5 452.1 L197.5 451.7 L199.5 451.4 L201.5 451.0 L203.5 450.6 L205.5 450.2 L207.5 449.8 L209.5 449.3 L211.5 448.9 L213.5 448.4 L215.5 447.9 L217.5 447.3 L219.5 446.8 L221.5 446.2 L223.5 445.7 L225.5 445.1 L227.5 444.5 L229.5 443.8 L231.5 443.2 L233.5 442.5 L235.5 441.9 L237.5 441.2 L239.5 440.5 L241.5 439.8 L243.5 439.1 L245.5 438.3 L247.5 437.6 L249.5 436.8 L251.5 436.1 L253.5 435.3 L255.5 434.5 L257.5 433.7 L259.5 432.9 L261.5 432.1 L263.5 431.3 L265.5 430.5 L267.5 429.7 L269.5 428.8 L271.5 428.0 L273.5 427.1 L275.5 426.3 L277.5 425.5 L279.5 424.6 L281.5 423.8 L283.5 422.9 L285.5 422.0 L287.5 421.2 L289.5 420.3 L291.5 419.5 L293.5 418.6 L295.5 417.7 L297.5 416.9 L299.5 416.0 L301.5 415.1 L303.5 414.3 L305.5 413.4 L307.5 412.6 L309.5 411.7 L311.5 410.8 L313.5 410.0 L315.5 409.1 L317.5 408.2 L319.5 407.3 L321.5 406.5 L323.5 405.6 L325.5 404.7 L327.5 403.9 L329.5 403.0 L331.5 402.1 L333.5 401.3 L335.5 400.4 L337.5 399.5 L339.5 398.7 L341.5 397.8 L343.5 396.9 L345.5 396.0 L347.5 395.2 L349.5 394.3 L351.5 393.4 L353.5 392.6 L355.5 391.7 L357.5 390.8 L359.5 390.0 L361.5 389.1 L363.5 388.2 L365.5 387.4 L367.5 386.5 L369.5 385.6 L371.5 384.8 L373.5 383.9 L375.5 383.0 L377.5 382.2 L379.5 381.3 L381.5 380.4 L383.5 379.6 L385.5 378.7 L387.5 377.8 L389.5 377.0 L391.5 376.1 L393.5 375.3 L395.5 374.4 L397.5 373.5 L399.5 372.7 L401.5 371.8 L403.5 371.0 L405.5 370.1 L407.5 369.3 L409.5 368.4 L411.5 367.6 L413.5 366.7 L415.5 365.9 L417.5 365.0 L419.5 364.2 L421.5 363.3 L423.5 362.5 L425.5 361.6 L427.5 360.8 L429.5 359.9 L431.5 359.1 L433.5 358.3 L435.5 357.4 L437.5 356.6 L439.5 355.8 L441.5 354.9 L443.5 354.1 L445.5 353.3 L447.5 352.4 L449.5 351.6 L451.5 350.8 L453.5 350.0 L455.5 349.2 L457.5 348.3 L459.5 347.5 L461.5 346.7 L463.5 345.9 L465.5 345.1 L467.5 344.3 L469.5 343.5 L471.5 342.7 L473.5 341.9 L475.5 341.1 L477.5 340.3 L479.5 339.5 L481.5 338.7 L483.5 337.9 L485.5 337.1 L487.5 336.3 L489.5 335.5 L491.5 334.8 L493.5 334.0 L495.5 333.2 L497.5 332.4 L499.5 331.7 L501.5 330.9 L503.5 330.1 L505.5 329.4 L507.5 328.6 L509.5 327.9 L511.5 327.1 L513.5 326.4 L515.5 325.6 L517.5 324.9 L519.5 324.2 L521.5 323.4 L523.5 322.7 L525.5 322.0 L527.5 321.2 L529.5 320.5 L531.5 319.8 L533.5 319.1 L535.5 318.4 L537.5 317.6 L539.5 316.9 L541.5 316.2 L543.5 315.5 L545.5 314.8 L547.5 314.1 L549.5 313.5 L551.5 312.8 L553.5 312.1 L555.5 311.4 L557.5 310.7 L559.5 310.1 L561.5 309.4 L563.5 308.7 L565.5 308.1 L567.5 307.4 L569.5 306.8 L571.5 306.1 L573.5 305.5 L575.5 304.9 L577.5 304.2 L579.5 303.6 L581.5 303.0 L583.5 302.4 L585.5 301.7 L587.5 301.1 L589.5 300.5 L591.5 299.9 L593.5 299.3 L595.5 298.7 L597.5 298.1 L599.5 297.6 L601.5 297.0 L603.5 296.4 L605.5 295.8 L607.5 295.3 L609.5 294.7 L611.5 294.1 L613.5 293.6 L615.5 293.0 L617.5 292.5 L619.5 292.0 L621.5 291.4 L623.5 290.9 L625.5 290.4 L627.5 289.9 L629.5 289.4 L631.5 288.9 L633.5 288.4 L635.5 287.9 L637.5 287.4 L639.5 286.9 L641.5 286.4 L643.5 285.9 L645.5 285.4 L647.5 285.0 L649.5 284.5 L651.5 284.1 L653.5 283.6 L655.5 283.2 L657.5 282.7 L659.5 282.3 L661.5 281.8 L663.5 281.4 L665.5 281.0 L667.5 280.5 L669.5 280.1 L671.5 279.7 L673.5 279.3 L675.5 278.9 L677.5 278.5 L679.5 278.1 L681.5 277.7 L683.5 277.3 L685.5 276.9 L687.5 276.5 L689.5 276.1 L691.5 275.8 L693.5 275.4 L695.5 275.0 L697.5 274.7 L699.5 274.3 L701.5 273.9 L703.5 273.6 L705.5 273.2 L707.5 272.9 L709.5 272.5 L711.5 272.2 L713.5 271.9 L715.5 271.5 L717.5 271.2 L719.5 270.9 L721.5 270.5 L723.5 270.2 L725.5 269.9 L727.5 269.6 L729.5 269.3 L731.5 269.0 L733.5 268.7 L735.5 268.4 L737.5 268.1 L739.5 267.8 L741.5 267.5 L743.5 267.2 L745.5 266.9 L747.5 266.6 L749.5 266.3 L751.5 266.1 L753.5 265.8 L755.5 265.5 L757.5 265.2 L759.5 265.0 L761.5 264.7 L763.5 264.4 L765.5 264.2 L767.5 263.9 L769.5 263.7 L771.5 263.4 L773.5 263.2 L775.5 262.9 L777.5 262.7 L779.5 262.4 L781.5 262.2 L783.5 261.9 L785.5 261.7 L787.5 261.5 L789.5 261.2 L791.5 261.0 L793.5 260.8 L795.5 260.5 L796.8 260.4" fill="none" stroke="#3a89a8" stroke-width="5.6" stroke-dasharray="5.5 4.978"/>
</g>
<text transform="translate(0 459.7) scale(1.14 1)" x="147.10" y="0" font-size="25.9">0</text>
<text transform="translate(0 382.6) scale(1.14 1)" x="98.26 110.39 116.92 132.36 147.80" y="0" font-size="25.9">1,000</text>
<text transform="translate(0 305.5) scale(1.14 1)" x="96.44 110.39 116.92 132.36 147.80" y="0" font-size="25.9">2,000</text>
<text transform="translate(0 228.3) scale(1.14 1)" x="96.56 110.39 116.92 132.36 147.80" y="0" font-size="25.9">3,000</text>
<text transform="translate(0 151.2) scale(1.14 1)" x="96.78 110.39 116.92 132.36 147.80" y="0" font-size="25.9">4,000</text>
<text transform="translate(0 74.1) scale(1.14 1)" x="96.68 110.39 116.92 132.36 147.80" y="0" font-size="25.9">5,000</text>
<text transform="translate(0 459.8) scale(1.14 1)" x="712.53" y="0" font-size="25.9">0</text>
<text transform="translate(0 382.7) scale(1.14 1)" x="711.44 726.13" y="0" font-size="25.9">20</text>
<text transform="translate(0 305.6) scale(1.14 1)" x="712.31 726.66" y="0" font-size="25.9">40</text>
<text transform="translate(0 228.4) scale(1.14 1)" x="711.92 726.66" y="0" font-size="25.9">60</text>
<text transform="translate(0 151.3) scale(1.14 1)" x="712.01 726.66" y="0" font-size="25.9">80</text>
<text transform="translate(0 74.2) scale(1.14 1)" x="708.35 721.22 736.66" y="0" font-size="25.9">100</text>
<text transform="translate(0 485.5) scale(1.14 1)" x="252.89 267.46 281.51 295.74" y="0" font-size="25.9">2040</text>
<text transform="translate(0 485.5) scale(1.14 1)" x="394.30 408.41 422.48 436.65" y="0" font-size="25.9">2060</text>
<text transform="translate(0 485.5) scale(1.14 1)" x="535.41 549.69 563.92 578.15" y="0" font-size="25.9">2080</text>
<text transform="translate(0 485.5) scale(1.08 1)" x="713.40 726.05 738.91 753.68" y="0" font-size="25.9">2100</text>
<text x="457.8" y="55.6" font-size="26.6" textLength="80.8" lengthAdjust="spacingAndGlyphs">Global</text>
<text x="215.07 231.00 235.89 252.00 256.20 268.74 280.84 295.30 303.23 319.70 336.75" y="103.0" font-size="25.9"><tspan font-style="italic">n</tspan> = 211,490</text>
<text x="467.6" y="524.3" font-size="29.2" textLength="58.6" lengthAdjust="spacingAndGlyphs">Year</text>
<text x="52.9" y="353.2" font-size="31.5" textLength="188.8" lengthAdjust="spacingAndGlyphs" transform="rotate(-90 52.9 353.2)">Annual no. of</text>
<text x="89.8" y="412.6" font-size="31.5" textLength="307.5" lengthAdjust="spacingAndGlyphs" transform="rotate(-90 89.8 412.6)">disappearing glaciers</text>
<text x="899.6" y="172.4" font-size="31.5" textLength="165.8" lengthAdjust="spacingAndGlyphs" transform="rotate(90 899.6 172.4)">Cumulative</text>
<text x="864.4" y="127.6" font-size="31.5" letter-spacing="0.45" transform="rotate(90 864.4 127.6)">disappearance <tspan font-size="28.6" dx="-1.9" letter-spacing="0">(%)</tspan></text>
</svg>
</body>
</html>
